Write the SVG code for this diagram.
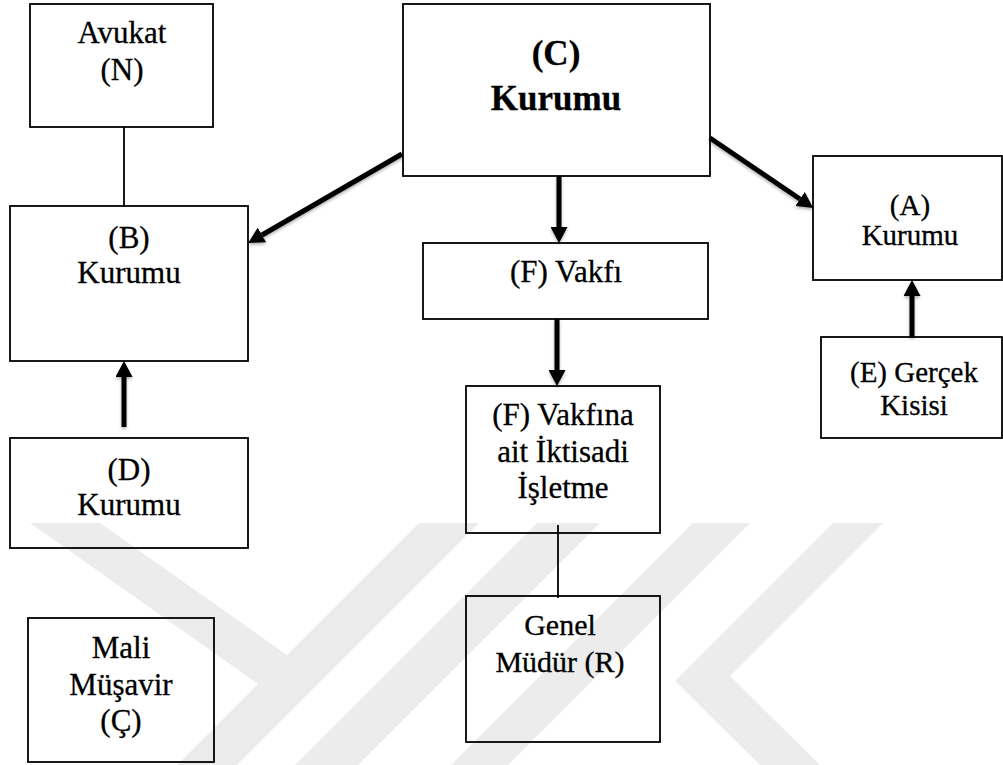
<svg xmlns="http://www.w3.org/2000/svg" width="1003" height="765" viewBox="0 0 1003 765">
<style>
.box{fill:none;stroke:#000;stroke-width:1.8}
.t{font-family:'Liberation Serif','Times New Roman',Times,'DejaVu Serif',serif;font-size:31px;fill:#000;stroke:#000;stroke-width:0.3;text-anchor:middle}
.s29{font-size:29px}
.s30{font-size:30px}
.b{font-weight:bold;font-size:35px}
.arr{stroke:#000;stroke-width:5;fill:none;marker-end:url(#ah);filter:url(#sh)}
.thin{stroke:#000;stroke-width:1.8;fill:none}
.wm{fill:#ececec}
</style>
<defs>
<marker id="ah" markerUnits="userSpaceOnUse" markerWidth="16" markerHeight="17" viewBox="0 0 16 17" refX="0" refY="8.5" orient="auto">
<path d="M0,0 L16,8.5 L0,17 z" fill="#000"/>
</marker>
<filter id="sh" filterUnits="userSpaceOnUse" x="0" y="0" width="1003" height="765">
<feDropShadow dx="0" dy="2" stdDeviation="1.5" flood-color="#000" flood-opacity="0.3"/>
</filter>
</defs>
<rect width="1003" height="765" fill="#fff"/>
<g id="watermark">
<polygon class="wm" points="30,523 100,523 287,655 258,684"/>
<polygon class="wm" points="419,523 479,523 237,765 177,765"/>
<polygon class="wm" points="537,523 600,523 358,765 295,765"/>
<polygon class="wm" points="693,523 750,523 508,765 451,765"/>
<polygon class="wm" points="833,523 883,523 730,676 820,765 760,765 675,681"/>
</g>
<g id="connectors">
<line class="thin" x1="124" y1="127" x2="124" y2="206"/>
<line class="thin" x1="558" y1="525" x2="558" y2="598"/>
<line class="arr" x1="559" y1="176" x2="559" y2="227"/>
<line class="arr" x1="557" y1="319" x2="557" y2="370"/>
<line class="arr" x1="124" y1="427" x2="124" y2="377"/>
<line class="arr" x1="912" y1="337" x2="912" y2="296"/>
<line class="arr" x1="402" y1="154" x2="262" y2="235"/>
<line class="arr" x1="710" y1="138" x2="800" y2="199"/>
</g>
<g id="node-avukat">
<rect class="box" x="30" y="4" width="183" height="123"/>
<text class="t" x="122" y="43">Avukat</text>
<text class="t" x="122" y="80">(N)</text>
</g>
<g id="node-c">
<rect class="box" x="403" y="4" width="307" height="172"/>
<text class="t b" x="556" y="65">(C)</text>
<text class="t b" x="556" y="110">Kurumu</text>
</g>
<g id="node-b">
<rect class="box" x="10" y="206" width="238" height="155"/>
<text class="t" x="129" y="248">(B)</text>
<text class="t" x="129" y="283">Kurumu</text>
</g>
<g id="node-f">
<rect class="box" x="423" y="243" width="285" height="76"/>
<text class="t" x="566" y="282">(F) Vakfı</text>
</g>
<g id="node-a">
<rect class="box" x="813" y="156" width="189" height="124"/>
<text class="t s29" x="910" y="215">(A)</text>
<text class="t s29" x="910" y="245">Kurumu</text>
</g>
<g id="node-e">
<rect class="box" x="821" y="337" width="181" height="101"/>
<text class="t s29" x="914" y="382">(E) Gerçek</text>
<text class="t s29" x="914" y="415">Kisisi</text>
</g>
<g id="node-d">
<rect class="box" x="10" y="438" width="238" height="110"/>
<text class="t" x="129" y="480">(D)</text>
<text class="t" x="129" y="515">Kurumu</text>
</g>
<g id="node-isletme">
<rect class="box" x="466" y="386" width="194" height="147"/>
<text class="t" x="563" y="425">(F) Vakfına</text>
<text class="t" x="563" y="462">ait İktisadi</text>
<text class="t" x="563" y="498">İşletme</text>
</g>
<g id="node-genel">
<rect class="box" x="466" y="596" width="194" height="146"/>
<text class="t s30" x="560" y="635">Genel</text>
<text class="t s30" x="560" y="672">Müdür (R)</text>
</g>
<g id="node-mali">
<rect class="box" x="28" y="618" width="186" height="144"/>
<text class="t" x="121" y="658">Mali</text>
<text class="t" x="121" y="695">Müşavir</text>
<text class="t" x="121" y="731">(Ç)</text>
</g>
</svg>
